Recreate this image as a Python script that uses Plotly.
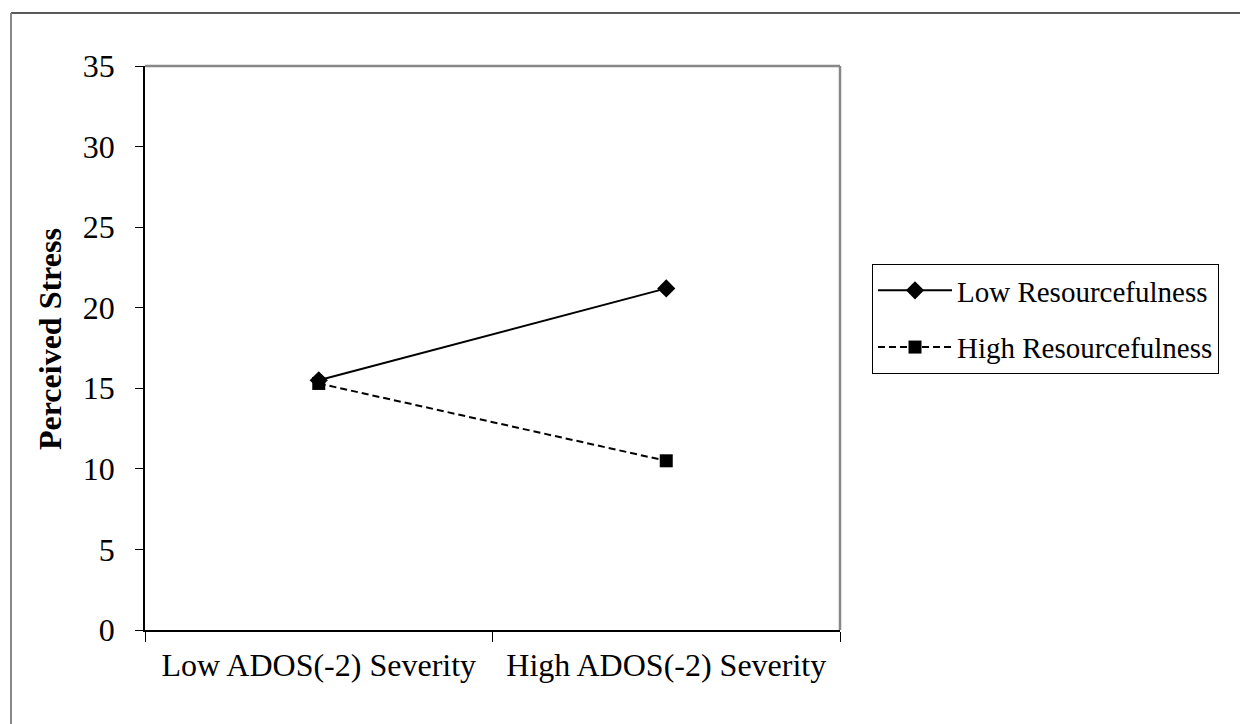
import plotly.graph_objects as go

categories = ["Low ADOS(-2) Severity", "High ADOS(-2) Severity"]
low_resourcefulness = [15.5, 21.2]
high_resourcefulness = [15.3, 10.5]
y_ticks = [0, 5, 10, 15, 20, 25, 30, 35]
y_title = "Perceived Stress"

FONT = "Liberation Serif, Times New Roman, serif"

fig = go.Figure()
fig.add_trace(go.Scatter(
    x=categories, y=low_resourcefulness, name="Low Resourcefulness",
    mode="lines+markers",
    line=dict(color="black", width=2),
    marker=dict(symbol="diamond", size=14, color="black"),
    legendgroup="a",
))
fig.add_trace(go.Scatter(
    x=categories, y=high_resourcefulness, name="High Resourcefulness",
    mode="lines+markers",
    line=dict(color="black", width=2, dash="7px,4px"),
    marker=dict(symbol="square", size=13, color="black"),
    legendgroup="b",
))

# page has an 8px body margin; figure is drawn at (8, 8)
OFF = 8
W, H = 1240, 716
L, T = 145 - OFF, 66 - OFF
R = W + OFF - 840
B = H + OFF - 630
pw, ph = W - L - R, H - T - B

def px_x(p):
    return (p - OFF - L) / pw

def px_y(p):
    return (H - B - (p - OFF)) / ph

fig.update_layout(
    width=W, height=H,
    margin=dict(l=L, r=R, t=T, b=B, pad=0),
    paper_bgcolor="white", plot_bgcolor="white",
    font=dict(family=FONT, color="black", size=30),
    showlegend=True,
    legend=dict(
        x=px_x(872), y=px_y(264), xanchor="left", yanchor="top",
        bordercolor="black", borderwidth=1, bgcolor="white",
        font=dict(family=FONT, size=29, color="black"),
        tracegroupgap=16,
        itemwidth=74,
    ),
    xaxis=dict(
        type="category", tickson="boundaries", range=[-0.5, 1.5],
        ticks="outside", ticklen=10, tickwidth=1.2, tickcolor="black",
        showline=True, linecolor="black", linewidth=1.5,
        showgrid=False, zeroline=False,
        tickfont=dict(family=FONT, size=32, color="black"),
        ticklabelstandoff=6,
    ),
    yaxis=dict(
        range=[0, 35], tickvals=y_ticks,
        ticks="outside", ticklen=8, tickwidth=1.2, tickcolor="black",
        showline=True, linecolor="black", linewidth=1.5,
        showgrid=False, zeroline=False,
        tickfont=dict(family=FONT, size=32, color="black"),
        ticklabelstandoff=14,
    ),
    annotations=[
        dict(text="<b>" + y_title + "</b>", xref="paper", yref="paper",
             x=px_x(50), y=px_y(339), xanchor="center", yanchor="middle",
             textangle=-90, showarrow=False,
             font=dict(family=FONT, size=32, color="black")),
    ],
    shapes=[
        dict(type="line", xref="paper", yref="paper", x0=0, x1=1, y0=1, y1=1,
             line=dict(color="#888888", width=2.5)),
        dict(type="line", xref="paper", yref="paper", x0=1, x1=1, y0=0, y1=1,
             line=dict(color="#888888", width=2.5)),
        dict(type="line", xref="paper", yref="paper",
             x0=px_x(11), x1=px_x(1260), y0=px_y(13), y1=px_y(13),
             line=dict(color="#222222", width=1.5)),
        dict(type="line", xref="paper", yref="paper",
             x0=px_x(11), x1=px_x(11), y0=px_y(13), y1=px_y(740),
             line=dict(color="#888888", width=2)),
    ],
)

fig.write_html("out.html")
